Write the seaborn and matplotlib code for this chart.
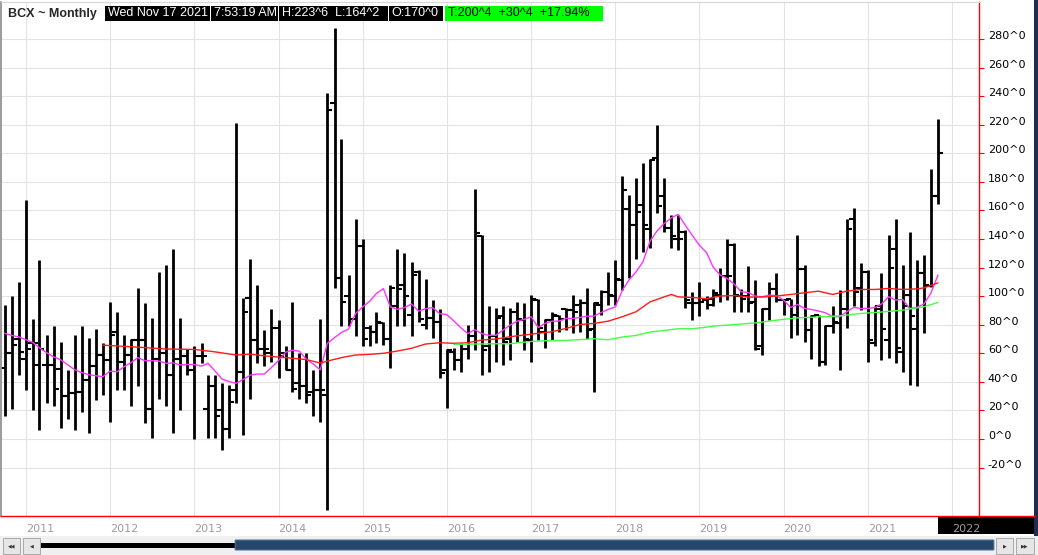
import matplotlib
matplotlib.use('Agg')
import matplotlib.pyplot as plt
from matplotlib.patches import Rectangle, FancyBboxPatch
from matplotlib.lines import Line2D
import pandas as pd
import seaborn as sns

FIG_W, FIG_H = 1038, 555

# monthly bars from Oct 2010 to Nov 2021
first_bar = '2010-10-01'
opens = [50, 60, 70, 56, 67, 52, 52, 52, 49, 30,
         32, 33, 41, 51, 59, 55, 75, 54, 59, 69,
         69, 21, 56, 60, 45, 56, 58, 48, 58, 21,
         37, 20, 7, 34, 47, 99, 69, 63, 60, 78,
         60, 48, 39, 37, 33, 34, 31, 235, 113, 100,
         84, 135, 78, 75, 81, 70, 93, 108, 87, 117,
         80, 85, 82, 48, 61, 55, 63, 72, 142, 65,
         72, 86, 70, 89, 83, 69, 97, 75, 83, 86,
         91, 90, 94, 95, 77, 94, 103, 100, 111, 161,
         150, 164, 147, 197, 170, 148, 140, 145, 95, 95,
         97, 94, 101, 114, 136, 100, 100, 96, 65, 91,
         105, 97, 98, 87, 119, 76, 87, 54, 79, 81,
         91, 154, 106, 117, 67, 91, 69, 133, 61, 101,
         77, 116, 107, 170]
highs = [94, 100, 110, 167, 84, 125, 73, 79, 68, 48,
         73, 79, 71, 77, 67, 96, 89, 73, 70, 106,
         95, 85, 117, 122, 133, 85, 63, 65, 67, 45,
         45, 39, 38, 221, 99, 126, 108, 76, 91, 83,
         65, 96, 60, 60, 48, 84, 242, 288, 210, 115,
         154, 140, 80, 89, 82, 108, 133, 130, 124, 118,
         112, 97, 91, 63, 64, 67, 80, 175, 143, 93,
         92, 93, 92, 96, 95, 101, 98, 84, 89, 87,
         92, 101, 98, 106, 96, 104, 117, 125, 184, 171,
         183, 193, 196, 220, 183, 157, 157, 146, 103, 110,
         100, 105, 120, 140, 137, 105, 121, 111, 92, 110,
         116, 98, 98, 143, 122, 87, 87, 80, 93, 104,
         154, 162, 123, 118, 93, 116, 143, 154, 122, 145,
         125, 129, 189, 223.75]
lows = [16, 21, 45, 34, 20, 6, 25, 23, 8, 14,
        6, 19, 4, 27, 31, 12, 34, 34, 23, 37,
        11, 1, 28, 23, 4, 20, 45, 0, 53, 1,
        1, -8, 1, 25, 3, 28, 53, 51, 54, 43,
        48, 33, 28, 25, 16, 12, -50, 106, 79, 79,
        72, 65, 65, 67, 66, 50, 79, 79, 72, 82,
        77, 71, 43, 22, 48, 47, 56, 62, 45, 47,
        54, 52, 55, 68, 62, 54, 69, 64, 69, 75,
        76, 74, 75, 70, 33, 87, 94, 94, 104, 113,
        126, 131, 134, 158, 145, 134, 132, 92, 83, 86,
        91, 93, 96, 97, 89, 89, 89, 62, 59, 83,
        96, 87, 71, 73, 68, 56, 51, 52, 74, 48,
        78, 93, 90, 54, 65, 55, 57, 53, 47, 38,
        37, 74, 106.6, 164.25]
closes = [60, 66, 61, 63, 67, 63, 52, 35, 30, 32,
          33, 41, 51, 59, 55, 73, 54, 59, 69, 69,
          21, 56, 60, 45, 56, 58, 48, 58, 58, 37,
          16, 7, 26, 47, 89, 69, 63, 63, 78, 58,
          48, 35, 37, 31, 34, 34, 230, 113, 96, 84,
          135, 70, 75, 82, 70, 106, 105, 100, 115, 84,
          85, 82, 46, 62, 55, 63, 72, 144, 62, 72,
          85, 68, 89, 84, 70, 98, 78, 83, 87, 84,
          90, 89, 95, 76, 95, 103, 101, 112, 174, 150,
          159, 150, 195, 163, 148, 142, 140, 97, 95, 96,
          98, 102, 114, 114, 101, 98, 95, 63, 91, 105,
          97, 97, 87, 119, 76, 86, 54, 79, 82, 91,
          147, 103, 117, 69, 93, 77, 120, 64, 93, 86,
          116, 108, 170, 200.5]

# magenta average, one value per bar
ma_fast = [74, 72.5, 71.5, 69.5, 67.5, 63.8, 60.5, 57.5, 55.5, 52,
           48.5, 46.5, 45, 44.3, 43.6, 47.5, 47.1, 50.5, 53.5, 57,
           54.8, 54.8, 54.5, 53, 53.3, 51.8, 52.2, 52.2, 51, 53,
           47.5, 42, 40.2, 39, 41.7, 44.8, 45.5, 45.5, 50, 55,
           60.8, 62.2, 61.5, 56, 52.5, 48.4, 67, 71, 74.6, 77,
           87.8, 92.5, 96.5, 101.8, 105.3, 92.5, 90.8, 92, 94.5, 89.5,
           91.3, 92, 87.8, 87.1, 82.6, 78, 73.8, 76.6, 73.8, 72.6,
           72.6, 76.2, 79.7, 82.5, 83.7, 85.6, 78, 80.9, 82.5, 82.5,
           84.4, 84.4, 85.1, 86, 86, 88.6, 90.7, 92.5, 104.2, 111.2,
           117, 124, 138.5, 145.7, 150.8, 154.8, 157.3, 149.6, 142.6, 135.6,
           130.5, 120.5, 114.8, 112.5, 108.4, 103.1, 102.6, 100, 99.6, 100.8,
           100.3, 97.3, 92.1, 94.2, 91.4, 90.7, 89.6, 88.4, 85.6, 85.6,
           89.1, 92.1, 91.4, 91.4, 92.1, 94.5, 99.6, 97.3, 97.7, 91.4,
           92.1, 94.5, 102, 114.8]

# red average
ma_mid_months = ['2011-12', '2012-04', '2012-09', '2013-01', '2013-04', '2013-07',
                 '2013-09', '2013-11', '2014-02', '2014-05', '2014-07', '2014-08',
                 '2014-10', '2014-12', '2015-02', '2015-04', '2015-06', '2015-08',
                 '2015-10', '2015-12', '2016-02', '2016-04', '2016-06', '2016-08',
                 '2016-10', '2016-12', '2017-02', '2017-04', '2017-06', '2017-08',
                 '2017-10', '2017-12', '2018-02', '2018-04', '2018-06', '2018-08',
                 '2018-09', '2018-10', '2018-12', '2019-02', '2019-04', '2019-06',
                 '2019-08', '2019-10', '2019-12', '2020-02', '2020-04', '2020-06',
                 '2020-08', '2020-10', '2020-12', '2021-02', '2021-04', '2021-06',
                 '2021-08', '2021-09', '2021-10', '2021-11']
ma_mid = [65.7, 64.6, 63, 62.7, 61, 58.8,
          59.4, 58.2, 57, 55.6, 53.2, 54.5,
          57, 58.8, 59.3, 60, 61.6, 63.5,
          66.5, 67.4, 67, 67.4, 69.3, 70,
          71.6, 72.8, 74, 75.1, 77.4, 80.2,
          80.9, 82.5, 85.6, 89.1, 96, 99.5,
          101.2, 99.5, 99.1, 98.2, 100.1, 100.5,
          99.4, 99.4, 100.1, 101.2, 102.4, 103.5,
          101.2, 103.5, 104.7, 104.7, 105.4, 104.7,
          105.1, 105.8, 107.5, 109.3]

# green average
ma_slow_months = ['2016-02', '2016-05', '2016-08', '2016-10', '2017-01', '2017-04',
                  '2017-06', '2017-10', '2017-12', '2018-02', '2018-04', '2018-06',
                  '2018-08', '2018-10', '2018-12', '2019-02', '2019-03', '2019-06',
                  '2019-09', '2019-12', '2020-03', '2020-06', '2020-09', '2020-12',
                  '2021-03', '2021-06', '2021-09', '2021-11']
ma_slow = [66.2, 66.5, 66.7, 66.7, 68.3, 69,
           69, 70.2, 69.5, 71.4, 72.5, 74.9,
           76, 77.2, 77.2, 78.3, 79, 80.1,
           81.3, 83.2, 84.8, 85.5, 86.2, 87.9,
           88.9, 90.2, 92.6, 95.6]

year_ticks = list(range(2011, 2023))
price_ticks = list(range(-20, 281, 20))

header_title = 'BCX ~ Monthly'
header_boxes = [
    (105, 210, 'Wed Nov 17 2021', 'black', 'white'),
    (211, 278, '7:53:19 AM', 'black', 'white'),
    (279, 388, 'H:223^6  L:164^2', 'black', 'white'),
    (389, 443, 'O:170^0', 'black', 'white'),
    (445, 603, 'T:200^4  +30^4  +17.94%', '#00ff00', 'black'),
]


def fx(px):
    return px / FIG_W


def fy(py):
    return 1 - py / FIG_H


def add_rect(fig, x0, y0, x1, y1, face, edge='none', zorder=1, lw=0.7):
    r = Rectangle((fx(x0), fy(y1)), fx(x1) - fx(x0), fy(y0) - fy(y1),
                  transform=fig.transFigure, facecolor=face, edgecolor=edge,
                  linewidth=lw, zorder=zorder)
    fig.add_artist(r)
    return r


def draw_header(fig):
    fig.text(fx(8.5), fy(13.5), header_title, fontfamily='Liberation Sans',
             fontweight='bold', fontsize=9, va='center', ha='left', zorder=5)
    for x0, x1, txt, face, color in header_boxes:
        add_rect(fig, x0, 5.5, x1, 20.5, face, zorder=4)
        fig.text(fx(x0 + 2.5), fy(13.5), txt, fontfamily='Liberation Sans',
                 fontsize=9, color=color, va='center', ha='left', zorder=5)


def draw_scrollbar(fig):
    add_rect(fig, 0, 536, FIG_W, FIG_H, '#f0f0f0', zorder=-2)
    for x0, x1, glyph in [(3, 20, '\u25c0\u25c0'), (23, 40, '\u25c0'),
                          (996, 1013, '\u25b6'), (1016, 1034, '\u25b6\u25b6')]:
        add_rect(fig, x0, 538, x1, 554, '#e6e6e6', edge='#a8a8a8')
        fig.text(fx((x0 + x1) / 2), fy(546), glyph, fontsize=3.5,
                 color='#333333', ha='center', va='center')
    add_rect(fig, 41, 543, 235, 547.5, 'black')
    thumb = FancyBboxPatch((fx(236), fy(549.5)), fx(993) - fx(236), fy(540.5) - fy(549.5),
                           boxstyle='round,pad=0.0008', transform=fig.transFigure,
                           facecolor='#27466c', edgecolor='#4b6a91', linewidth=0.8)
    fig.add_artist(thumb)


def main():
    sns.set_style('white')
    plt.rcParams['font.family'] = ['DejaVu Sans']

    fig = plt.figure(figsize=(FIG_W / 100, FIG_H / 100), dpi=100)
    ax = fig.add_axes([fx(1), fy(516), fx(979) - fx(1), fy(1.5) - fy(516)])

    months = pd.date_range(first_bar, periods=len(closes), freq='MS')

    # OHLC bars
    ax.vlines(months, lows, highs, colors='black', linewidth=2.0, zorder=2)
    ax.plot(months, opens, linestyle='none', marker=0, markersize=3.4,
            markeredgewidth=1.5, color='black', zorder=2)
    ax.plot(months, closes, linestyle='none', marker=1, markersize=3.4,
            markeredgewidth=1.5, color='black', zorder=2)

    # moving averages
    sns.lineplot(x=months, y=ma_fast, ax=ax, color='#ff33ff', linewidth=1.0, zorder=3)
    sns.lineplot(x=pd.to_datetime(ma_mid_months), y=ma_mid, ax=ax,
                 color='#ff1a1a', linewidth=1.0, zorder=3)
    sns.lineplot(x=pd.to_datetime(ma_slow_months), y=ma_slow, ax=ax,
                 color='#44ff44', linewidth=1.0, zorder=3)

    ax.set_xlim(pd.Timestamp('2010-09-15'), pd.Timestamp('2022-04-28'))
    ax.set_ylim(-53.9, 306.3)

    ax.set_xticks(pd.to_datetime([f'{y}-01-01' for y in year_ticks]))
    ax.set_xticklabels([str(y) for y in year_ticks], ha='left')
    ax.set_yticks(price_ticks)
    ax.set_yticklabels([f'{v}^0' for v in price_ticks])
    ax.yaxis.tick_right()
    for lab in ax.get_yticklabels():
        lab.set_verticalalignment('baseline')
    ax.set_xlabel('')
    ax.set_ylabel('')

    ax.tick_params(axis='y', direction='out', length=3.8, width=0.8, color='red',
                   labelcolor='black', labelsize=8, pad=2.6)
    ax.tick_params(axis='x', direction='out', length=4.3, width=0.8, color='red',
                   labelcolor='#9c9c9c', labelsize=8, pad=1.2)

    ax.grid(True, color='#e3e3e3', linewidth=0.8)
    ax.set_axisbelow(True)

    ax.spines['top'].set_color('#d6d6d6')
    ax.spines['top'].set_linewidth(0.8)
    ax.spines['left'].set_color('#8a8a8a')
    ax.spines['left'].set_linewidth(1.2)
    ax.spines['right'].set_color('red')
    ax.spines['right'].set_linewidth(1.0)
    ax.spines['bottom'].set_color('red')
    ax.spines['bottom'].set_linewidth(1.0)

    # black box under the current year label
    add_rect(fig, 938, 517, 1035, 533.5, 'black', zorder=-1)
    fig.add_artist(Line2D([fx(979), fx(1035)], [fy(516), fy(516)],
                          transform=fig.transFigure, color='red', linewidth=1.0))
    # dark frame on the right
    add_rect(fig, 1034, 0, FIG_W, 536, '#1c2f4f')

    draw_header(fig)
    draw_scrollbar(fig)

    fig.savefig('out.png', dpi=100)


if __name__ == '__main__':
    main()
